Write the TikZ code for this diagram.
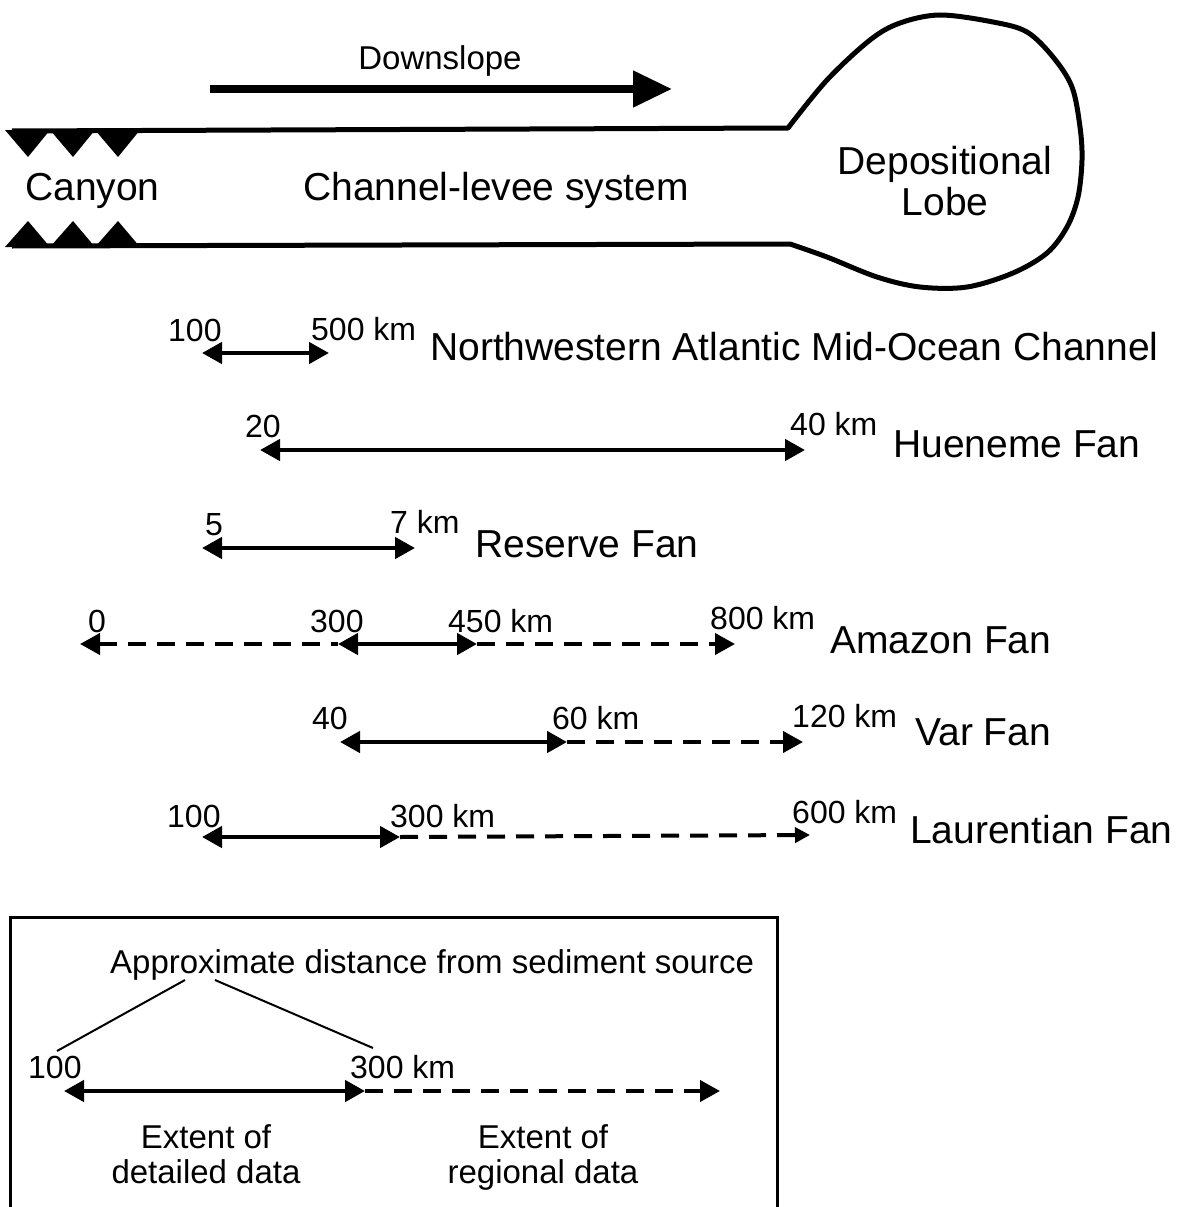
\documentclass[tikz,border=0pt]{standalone}
\usepackage{fontspec}
\setmainfont{Liberation Sans}
\usepackage{tikz}
\usetikzlibrary{arrows.meta,positioning}

\begin{document}
\begin{tikzpicture}[x=1pt, y=-1pt,
  fanname/.style={anchor=base west, inner sep=0pt, font=\fontsize{39}{41}\selectfont},
  dist/.style={anchor=base west, inner sep=0pt, font=\fontsize{32}{34}\selectfont},
  legtext/.style={anchor=base, inner sep=0pt, align=center, font=\fontsize{33}{35}\selectfont},
  channel/.style={line width=5pt, line join=round},
  span/.style={line width=4.5pt, {Triangle[length=20pt,width=21pt]}-{Triangle[length=20pt,width=21pt]}},
  reach/.style={line width=4pt, dash pattern=on 18pt off 11pt},
  tipend/.style={-{Triangle[length=20pt,width=21pt]}},
  tipsmall/.style={-{Triangle[length=15pt,width=15pt]}},
  tipstart/.style={{Triangle[length=20pt,width=21pt]}-}
]
\useasboundingbox (0,0) rectangle (1176,1207);

% downslope arrow
\node[anchor=base, inner sep=0pt, font=\fontsize{33}{35}\selectfont] (down) at (440,70) {Downslope};
\coordinate (dsA) at (210,89);
\coordinate (dsB) at (672,89);
\draw[line width=8pt, -{Triangle[length=39pt,width=35pt]}] (dsA) -- (dsB);

% channel and lobe
\draw[channel] (12,131) -- (788,128) -- plot[smooth, tension=0.55] coordinates {
  (788,128) (827,80) (870,40) (900,23) (940,15) (993,22) (1027,32) (1053,57)
  (1072,87) (1080,127) (1082,160) (1078,197) (1067,227) (1047,253) (1013,273)
  (967,287) (920,287) (877,277) (827,257) (790,244)} -- (12,246);
\foreach \x in {28,73,118} {
  \fill (\x-23,130) -- (\x+22,130) -- (\x,157) -- cycle;
  \fill (\x-23,247) -- (\x+22,247) -- (\x,221) -- cycle;
}
\node[fanname] (canyon) at (25,200) {Canyon};
\node[fanname] (levee) at (303,200) {Channel-levee system};
\node[anchor=base, inner sep=0pt, align=center, font=\fontsize{39}{41}\selectfont] (lobe) at (945,215) {Depositional\\Lobe};

% Northwestern Atlantic Mid-Ocean Channel
\coordinate (nwA) at (202,353);
\coordinate (nwB) at (329,353);
\node[dist] (nw100) at (168,341) {100};
\node[dist] (nw500) at (311,340) {500 km};
\node[fanname] (nwname) at (430,360) {Northwestern Atlantic Mid-Ocean Channel};
\draw[span] (nwA) -- (nwB);

% Hueneme Fan
\coordinate (huA) at (260,450);
\coordinate (huB) at (805,450);
\node[dist] (hu20) at (245,437) {20};
\node[dist] (hu40) at (790,435) {40 km};
\node[fanname] (huname) at (893,457) {Hueneme Fan};
\draw[span] (huA) -- (huB);

% Reserve Fan
\coordinate (reA) at (202,548);
\coordinate (reB) at (415,548);
\node[dist] (re5) at (205,535) {5};
\node[dist] (re7) at (390,533) {7 km};
\node[fanname] (rename) at (475,557) {Reserve Fan};
\draw[span] (reA) -- (reB);

% Amazon Fan
\coordinate (amA) at (80,644);
\coordinate (amB) at (338,644);
\coordinate (amC) at (477,644);
\coordinate (amD) at (735,644);
\node[dist] (am0) at (88,632) {0};
\node[dist] (am300) at (310,632) {300};
\node[dist] (am450) at (448,632) {450 km};
\node[dist] (am800) at (710,629) {800 km};
\node[fanname] (amname) at (830,653) {Amazon Fan};
\draw[reach, tipstart] (amA) -- (amB);
\draw[span] (amB) -- (amC);
\draw[reach, tipend] (amC) -- (amD);

% Var Fan
\coordinate (vaA) at (340,742);
\coordinate (vaB) at (567,742);
\coordinate (vaC) at (803,742);
\node[dist] (va40) at (312,729) {40};
\node[dist] (va60) at (552,729) {60 km};
\node[dist] (va120) at (792,727) {120 km};
\node[fanname] (vaname) at (915,745) {Var Fan};
\draw[span] (vaA) -- (vaB);
\draw[reach, tipend] (vaB) -- (vaC);

% Laurentian Fan
\coordinate (laA) at (202,837);
\coordinate (laB) at (400,837);
\coordinate (laC) at (810,835);
\node[dist] (la100) at (167,827) {100};
\node[dist] (la300) at (390,827) {300 km};
\node[dist] (la600) at (792,823) {600 km};
\node[fanname] (laname) at (910,843) {Laurentian Fan};
\draw[span] (laA) -- (laB);
\draw[reach, tipsmall] (laB) -- (laC);

% legend
\draw[line width=3pt] (10,1225) |- (777,917) -- (777,1225);
\node[dist, font=\fontsize{33}{35}\selectfont] (approx) at (110,973) {Approximate distance from sediment source};
\node[dist] (lg100) at (28,1078) {100};
\node[dist] (lg300) at (350,1078) {300 km};
\coordinate (apL) at (185,980);
\coordinate (apR) at (215,980);
\coordinate (lgL) at (57,1051);
\coordinate (lgR) at (373,1048);
\draw[line width=2pt] (apL) -- (lgL);
\draw[line width=2pt] (apR) -- (lgR);
\coordinate (lgA) at (64,1091);
\coordinate (lgB) at (365,1091);
\coordinate (lgC) at (720,1091);
\draw[span] (lgA) -- (lgB);
\draw[reach, tipend] (lgB) -- (lgC);
\node[legtext] (detail) at (206,1183) {Extent of\\detailed data};
\node[legtext] (region) at (543,1183) {Extent of\\regional data};
\end{tikzpicture}
\end{document}
